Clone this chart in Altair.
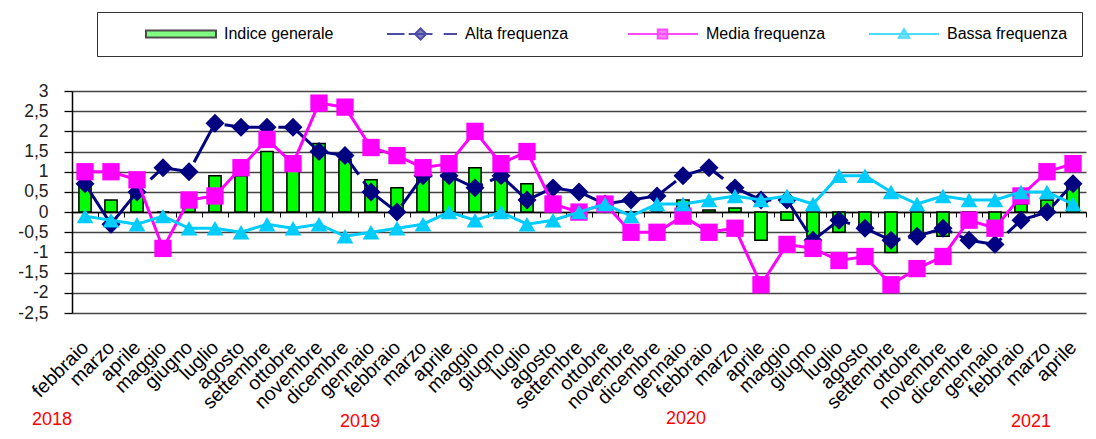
import altair as alt
import pandas as pd

# ---------------- data ----------------
mesi = ["febbraio", "marzo", "aprile", "maggio", "giugno", "luglio", "agosto",
        "settembre", "ottobre", "novembre", "dicembre",
        "gennaio", "febbraio", "marzo", "aprile", "maggio", "giugno", "luglio",
        "agosto", "settembre", "ottobre", "novembre", "dicembre",
        "gennaio", "febbraio", "marzo", "aprile", "maggio", "giugno", "luglio",
        "agosto", "settembre", "ottobre", "novembre", "dicembre",
        "gennaio", "febbraio", "marzo", "aprile"]
anni = [2018] * 11 + [2019] * 12 + [2020] * 12 + [2021] * 4

indice_generale = [0.7, 0.3, 0.5, 0.0, 0.2, 0.9, 0.9, 1.5, 1.1, 1.7, 1.3,
                   0.8, 0.6, 0.9, 0.9, 1.1, 0.9, 0.7, 0.0, 0.0, 0.0, 0.0, 0.0,
                   0.3, 0.05, 0.1, -0.7, -0.2, -0.6, -0.5, -0.4, -1.0, -0.6, -0.6, -0.1,
                   -0.4, 0.2, 0.3, 0.7]
alta_frequenza = [0.7, -0.3, 0.5, 1.1, 1.0, 2.2, 2.1, 2.1, 2.1, 1.5, 1.4,
                  0.5, 0.0, 0.9, 0.9, 0.6, 0.9, 0.3, 0.6, 0.5, 0.2, 0.3, 0.4,
                  0.9, 1.1, 0.6, 0.3, 0.3, -0.7, -0.2, -0.4, -0.7, -0.6, -0.4, -0.7,
                  -0.8, -0.2, 0.0, 0.7]
media_frequenza = [1.0, 1.0, 0.8, -0.9, 0.3, 0.4, 1.1, 1.8, 1.2, 2.7, 2.6,
                   1.6, 1.4, 1.1, 1.2, 2.0, 1.2, 1.5, 0.2, 0.0, 0.2, -0.5, -0.5,
                   -0.1, -0.5, -0.4, -1.8, -0.8, -0.9, -1.2, -1.1, -1.8, -1.4, -1.1, -0.2,
                   -0.4, 0.4, 1.0, 1.2]
bassa_frequenza = [-0.1, -0.2, -0.3, -0.1, -0.4, -0.4, -0.5, -0.3, -0.4, -0.3, -0.6,
                   -0.5, -0.4, -0.3, 0.0, -0.2, 0.0, -0.3, -0.2, 0.0, 0.2, -0.1, 0.2,
                   0.2, 0.3, 0.4, 0.3, 0.4, 0.2, 0.9, 0.9, 0.5, 0.2, 0.4, 0.3,
                   0.3, 0.5, 0.5, 0.2]

serie = ["Indice generale", "Alta frequenza", "Media frequenza", "Bassa frequenza"]

anni_etichette = ["2018", "2019", "2020", "2021"]
anni_ancora = ["febbraio 2018", "gennaio 2019", "gennaio 2020", "febbraio 2021"]

y_ticks = [-2.5, -2, -1.5, -1, -0.5, 0, 0.5, 1, 1.5, 2, 2.5, 3]

# ---------------- styles ----------------
GREEN = "#00FF00"
NAVY = "#000080"
MAGENTA = "#FF00FF"
CYAN = "#00CCFF"
FONT = "Liberation Sans"

W, H = 1014, 222
YEAR_DX = [-33, -11, 3, 10]
YEAR_Y = [329, 331, 328, 331]

keys = [f"{m} {a}" for m, a in zip(mesi, anni)]
df = pd.DataFrame({
    "key": keys,
    "indice": indice_generale,
    "alta": alta_frequenza,
    "media": media_frequenza,
    "bassa": bassa_frequenza,
})

x_enc = alt.X(
    "key:N", sort=keys, title=None,
    scale=alt.Scale(domain=keys, paddingInner=0, paddingOuter=0),
    axis=alt.Axis(
        offset=-round(H * 2.5 / 5.5), tickBand="extent", ticks=True, tickSize=5,
        tickColor="black", tickWidth=1, domain=True, domainColor="black",
        domainWidth=1.5, labelAngle=-45, labelAlign="right", labelBaseline="middle",
        labelPadding=127, labelFont=FONT, labelFontSize=19.5, labelColor="black",
        labelExpr="split(datum.label, ' ')[0]", labelOverlap=False, grid=False,
    ),
)
y_scale = alt.Scale(domain=[-2.5, 3], nice=False, zero=False)
y_axis = alt.Axis(values=y_ticks, grid=True, gridColor="#444444",
                  gridWidth=1.4, domain=True, domainColor="black",
                  domainWidth=1.5, ticks=True, tickSize=8,
                  tickColor="black", tickWidth=1.3, labelFont=FONT,
                  labelFontSize=17.5, labelColor="#222222", labelPadding=16,
                  labelOverlap=False, labelFlush=False, labelBound=False,
                  labelExpr="replace(toString(datum.value), '.', ',')")


def y_of(field):
    return alt.Y(f"{field}:Q", scale=y_scale, title=None, axis=y_axis)


base = alt.Chart(df).encode(x=x_enc)

bars = base.mark_bar(
    color=GREEN, stroke="black", strokeWidth=1.5,
    width=alt.RelativeBandSize(band=0.47),
).encode(y=y_of("indice"))


def serie_layer(field, color, shape, size, dash=None):
    kw = dict(color=color, strokeWidth=3)
    if dash:
        kw["strokeDash"] = dash
    line = base.mark_line(**kw).encode(y=y_of(field))
    pts = base.mark_point(shape=shape, size=size, filled=True, color=color,
                          opacity=1).encode(y=y_of(field))
    return [line, pts]


layers = [bars]
layers += serie_layer("alta", NAVY, "diamond", 360, dash=[46, 8])
layers += serie_layer("media", MAGENTA, "square", 300)
layers += serie_layer("bassa", CYAN, "triangle-up", 280)

# legend (Vega-Lite legend built from the series names)
paths = [
    "M-1,-0.1L1,-0.1L1,0.1L-1,0.1Z",
    "M-1,0L-0.5,0M-0.38,0L0.3,0M0.62,0L1,0M-0.04,-0.16L0.12,0L-0.04,0.16L-0.2,0Z",
    "M-1,0L1,0M-0.15,-0.13L0.12,-0.13L0.12,0.13L-0.15,0.13Z",
    "M-1,0L1,0M0,-0.14L0.15,0.11L-0.15,0.11Z",
]
leg = alt.Legend(
    orient="none", legendX=25, legendY=-79, direction="horizontal", columns=4,
    gridAlign="all", columnPadding=41, symbolSize=4900, clipHeight=16,
    symbolStrokeWidth=2, labelFont=FONT, labelFontSize=16, labelColor="black",
    labelOffset=7, padding=14, strokeColor="#333333", fillColor="white",
    title="\u00a0", titleOrient="left", titlePadding=34, titleFontSize=10,
)
leg_df = pd.DataFrame({"serie": serie})
legend_layer = alt.Chart(leg_df).mark_point(filled=True).encode(
    shape=alt.Shape("serie:N", sort=serie, scale=alt.Scale(domain=serie, range=paths), legend=leg),
    fill=alt.Fill("serie:N", sort=serie, scale=alt.Scale(domain=serie, range=[GREEN, NAVY, MAGENTA, CYAN]), legend=leg),
    stroke=alt.Stroke("serie:N", sort=serie, scale=alt.Scale(domain=serie, range=["black", NAVY, MAGENTA, CYAN]), legend=leg),
).transform_filter("false")
layers.append(legend_layer)

# year labels
ydf = pd.DataFrame({"anno": anni_etichette, "key": anni_ancora})
for i in range(len(anni_etichette)):
    layers.append(
        alt.Chart(ydf.iloc[[i]]).mark_text(
            color="#FF0000", font=FONT, fontSize=18, dx=YEAR_DX[i],
            baseline="middle", align="center",
        ).encode(x=alt.X("key:N", sort=keys), y=alt.value(YEAR_Y[i]), text="anno:N")
    )

chart = alt.layer(*layers).properties(
    width=W, height=H,
    autosize=alt.AutoSizeParams(type="none"),
    padding={"left": 64, "top": 83, "right": 2, "bottom": 118},
    background="white",
).configure_view(stroke=None).configure_axisY(labelOverlap=False)

chart.save("out.html", embed_options={"renderer": "svg", "actions": False})
